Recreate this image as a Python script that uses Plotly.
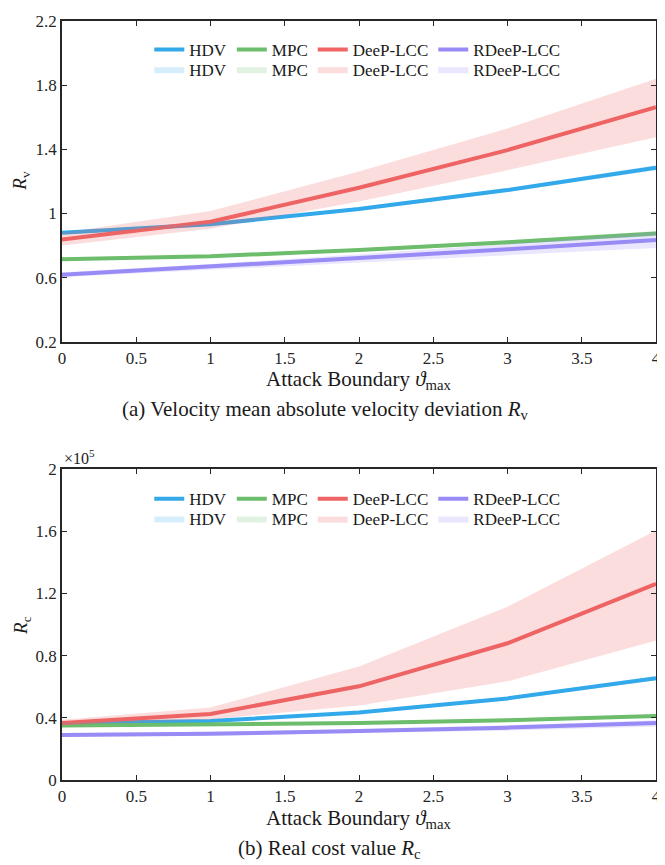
import plotly.graph_objects as go

# ---------------- data ----------------
attack = [0, 1, 2, 3, 4]
x_ticks = [0, 0.5, 1, 1.5, 2, 2.5, 3, 3.5, 4]
x_tick_labels = ["0", "0.5", "1", "1.5", "2", "2.5", "3", "3.5", "4"]

methods = ["HDV", "MPC", "DeeP-LCC", "RDeeP-LCC"]

# (a) velocity deviation R_v
rv_hdv = [0.880, 0.932, 1.028, 1.146, 1.285]
rv_hdv_lo = [0.872, 0.924, 1.018, 1.134, 1.270]
rv_hdv_hi = [0.888, 0.940, 1.038, 1.158, 1.300]
rv_mpc = [0.715, 0.733, 0.772, 0.820, 0.875]
rv_mpc_lo = [0.707, 0.725, 0.762, 0.808, 0.860]
rv_mpc_hi = [0.723, 0.741, 0.782, 0.832, 0.890]
rv_deep = [0.838, 0.948, 1.160, 1.395, 1.662]
rv_deep_lo = [0.800, 0.905, 1.075, 1.270, 1.475]
rv_deep_hi = [0.880, 1.015, 1.262, 1.530, 1.840]
rv_rdeep = [0.618, 0.668, 0.722, 0.776, 0.835]
rv_rdeep_lo = [0.603, 0.648, 0.695, 0.740, 0.785]
rv_rdeep_hi = [0.633, 0.685, 0.745, 0.810, 0.885]

rv_ticks = [0.2, 0.6, 1.0, 1.4, 1.8, 2.2]
rv_tick_labels = ["0.2", "0.6", "1", "1.4", "1.8", "2.2"]

# (b) real cost R_c
rc_hdv = [36500, 38000, 43400, 52500, 65500]
rc_hdv_lo = [35800, 37300, 42600, 51500, 64200]
rc_hdv_hi = [37200, 38700, 44200, 53500, 66800]
rc_mpc = [35000, 35700, 36700, 38500, 41200]
rc_mpc_lo = [34300, 35000, 35900, 37600, 40200]
rc_mpc_hi = [35700, 36400, 37500, 39400, 42200]
rc_deep = [36700, 42500, 60300, 88000, 126300]
rc_deep_lo = [35000, 39000, 48000, 63500, 89700]
rc_deep_hi = [38700, 46600, 73000, 111500, 160500]
rc_rdeep = [29000, 29800, 31500, 33700, 36700]
rc_rdeep_lo = [27800, 28600, 30000, 31800, 34500]
rc_rdeep_hi = [30200, 31000, 32800, 35200, 38500]

rc_ticks = [0, 40000, 80000, 120000, 160000, 200000]
rc_tick_labels = ["0", "0.4", "0.8", "1.2", "1.6", "2"]

# ---------------- styles ----------------
line_colors = ["#33a9ea", "#6cbd6c", "#ef6464", "#998bf5"]
band_colors = ["rgba(51,169,234,0.20)", "rgba(108,189,108,0.20)",
               "rgba(239,100,100,0.22)", "rgba(153,139,245,0.22)"]
FONT = "Liberation Serif, Times New Roman, serif"
AX = "#262626"
TXT = "#1a1a1a"

fig = go.Figure()

panels = [
    ("x", "y", [rv_hdv, rv_mpc, rv_deep, rv_rdeep],
     [rv_hdv_lo, rv_mpc_lo, rv_deep_lo, rv_rdeep_lo],
     [rv_hdv_hi, rv_mpc_hi, rv_deep_hi, rv_rdeep_hi], "legend", "legend2"),
    ("x2", "y2", [rc_hdv, rc_mpc, rc_deep, rc_rdeep],
     [rc_hdv_lo, rc_mpc_lo, rc_deep_lo, rc_rdeep_lo],
     [rc_hdv_hi, rc_mpc_hi, rc_deep_hi, rc_rdeep_hi], "legend3", "legend4"),
]

for xa, ya, means, los, his, lg1, lg2 in panels:
    for i, name in enumerate(methods):
        fig.add_trace(go.Scatter(
            x=attack, y=means[i], mode="lines", name=name,
            line=dict(color=line_colors[i], width=4),
            xaxis=xa, yaxis=ya, legend=lg1))
    for i, name in enumerate(methods):
        fig.add_trace(go.Scatter(
            x=attack + attack[::-1], y=his[i] + los[i][::-1],
            mode="lines", fill="toself", fillcolor=band_colors[i],
            line=dict(width=0, color=band_colors[i]), name=name,
            xaxis=xa, yaxis=ya, legend=lg2, hoverinfo="skip"))

axis_common = dict(showline=True, linecolor=AX, linewidth=1.5, mirror="ticks",
                   ticks="inside", ticklen=5, tickwidth=1, tickcolor=AX,
                   showgrid=False, zeroline=False,
                   tickfont=dict(family=FONT, size=17, color=AX))

# page body has an 8px margin: figure is offset by 8px inside the window
W, H = 657, 857
ML, MR, MT = 54, 4, 10
MB = H - 772


def py(yw):
    # window pixel y -> paper fraction
    return (780 - yw) / 762


def px(xw):
    # window pixel x -> paper fraction
    return (xw - 62) / 599


legend_common = dict(orientation="h", bgcolor="rgba(0,0,0,0)",
                     font=dict(family=FONT, size=17, color=TXT),
                     xanchor="left", yanchor="middle", tracegroupgap=0,
                     itemclick=False, itemdoubleclick=False)

fig.update_layout(
    width=W, height=H,
    margin=dict(l=ML, r=MR, t=MT, b=MB),
    paper_bgcolor="white", plot_bgcolor="white",
    showlegend=True,
    xaxis=dict(domain=[0, 1], range=[0, 4], tickvals=x_ticks,
               ticktext=x_tick_labels, anchor="y", **axis_common),
    yaxis=dict(domain=[py(340), 1], range=[0.2, 2.2], tickvals=rv_ticks,
               ticktext=rv_tick_labels, anchor="x", **axis_common),
    xaxis2=dict(domain=[0, 1], range=[0, 4], tickvals=x_ticks,
                ticktext=x_tick_labels, anchor="y2", **axis_common),
    yaxis2=dict(domain=[0, py(468)], range=[0, 200000], tickvals=rc_ticks,
                ticktext=rc_tick_labels, anchor="x2", **axis_common),
    legend=dict(x=px(150), y=py(47), **legend_common),
    legend2=dict(x=px(150), y=py(67), **legend_common),
    legend3=dict(x=px(150), y=py(498), **legend_common),
    legend4=dict(x=px(150), y=py(518), **legend_common),
)

ann = dict(xref="paper", yref="paper", showarrow=False,
           xanchor="center", yanchor="middle")
annotations = [
    dict(text="Attack Boundary <i>ϑ</i><sub>max</sub>", x=0.5, y=py(378),
         font=dict(family=FONT, size=21, color=TXT), **ann),
    dict(text="Attack Boundary <i>ϑ</i><sub>max</sub>", x=0.5, y=py(819),
         font=dict(family=FONT, size=21, color=TXT), **ann),
    dict(text="(a) Velocity mean absolute velocity deviation <i>R</i><sub>v</sub>",
         x=px(328), y=py(409), font=dict(family=FONT, size=21, color=TXT), **ann),
    dict(text="(b) Real cost value <i>R</i><sub>c</sub>",
         x=px(332), y=py(849), font=dict(family=FONT, size=21, color=TXT), **ann),
    dict(text="<i>R</i><sub>v</sub>", x=px(21), y=py(178), textangle=-90,
         font=dict(family=FONT, size=19, color=TXT), **ann),
    dict(text="<i>R</i><sub>c</sub>", x=px(21), y=py(625), textangle=-90,
         font=dict(family=FONT, size=19, color=TXT), **ann),
    dict(text="×10<sup>5</sup>", x=px(62), y=py(456), xanchor="left",
         yanchor="middle", xref="paper", yref="paper", showarrow=False,
         font=dict(family=FONT, size=16, color=TXT)),
]
fig.update_layout(annotations=annotations)

fig.write_html("out.html")
